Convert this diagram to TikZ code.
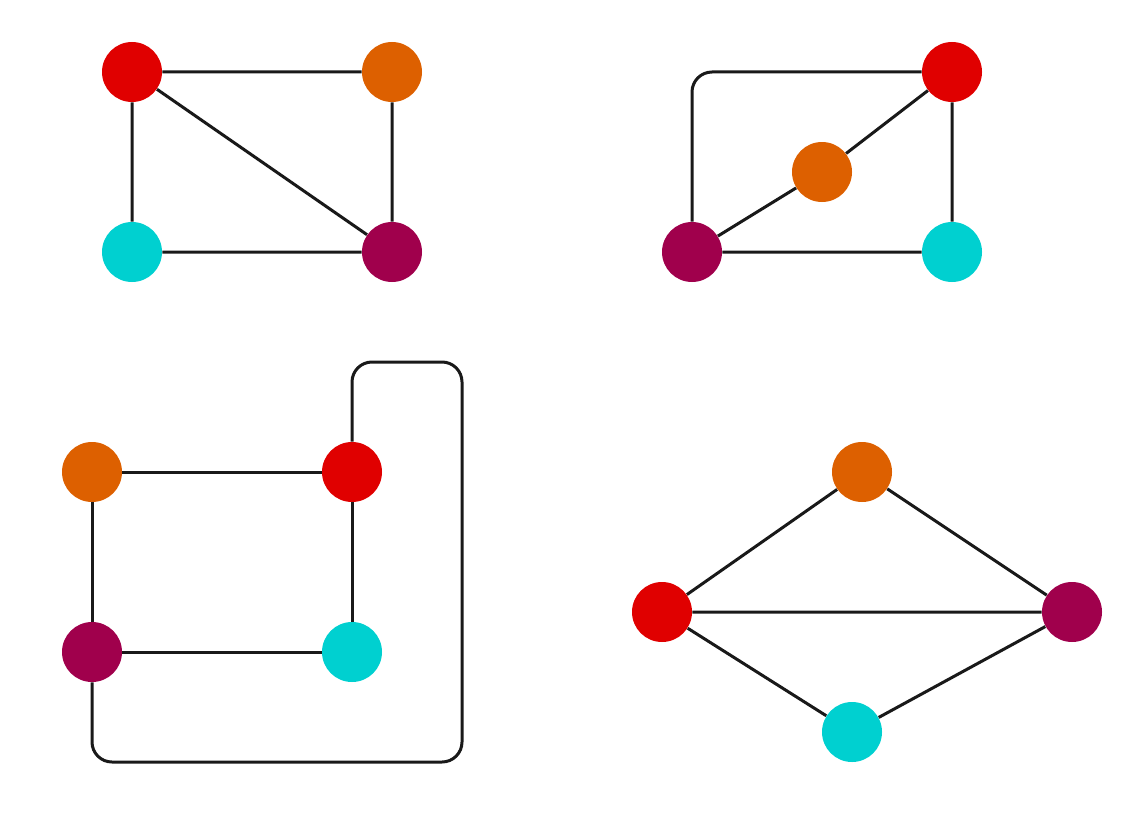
\documentclass[tikz,border=0pt]{standalone}
\definecolor{cr}{HTML}{E00000}
\definecolor{co}{HTML}{DD6000}
\definecolor{cc}{HTML}{00D0D0}
\definecolor{cp}{HTML}{A0004C}
\begin{document}
\begin{tikzpicture}[x=0.5pt,y=-0.5pt,
  v/.style={circle,minimum size=30pt,inner sep=0pt},
  e/.style={line width=1.5pt,black!90}]
\useasboundingbox (0,0) rectangle (1144,824);
% graph 1
\node[v,fill=cr] (r1) at (132,72) {};
\node[v,fill=co] (o1) at (392,72) {};
\node[v,fill=cc] (c1) at (132,252) {};
\node[v,fill=cp] (p1) at (392,252) {};
\draw[e] (r1)--(o1) (r1)--(c1) (r1)--(p1) (o1)--(p1) (c1)--(p1);
% graph 2
\node[v,fill=cr] (r2) at (952,72) {};
\node[v,fill=co] (o2) at (822,172) {};
\node[v,fill=cp] (p2) at (692,252) {};
\node[v,fill=cc] (c2) at (952,252) {};
\draw[e] (p2)--(o2) (o2)--(r2) (r2)--(c2) (p2)--(c2);
\draw[e,rounded corners=10pt] (p2.north) |- (r2.west);
% graph 3
\node[v,fill=co] (o3) at (92,472) {};
\node[v,fill=cr] (r3) at (352,472) {};
\node[v,fill=cp] (p3) at (92,652) {};
\node[v,fill=cc] (c3) at (352,652) {};
\draw[e] (o3)--(r3) (o3)--(p3) (r3)--(c3) (p3)--(c3);
\coordinate (k1) at (92,762);
\coordinate (k2) at (462,762);
\coordinate (k3) at (462,362);
\coordinate (k4) at (352,362);
\draw[e,rounded corners=10pt] (p3.south) -- (k1) -- (k2) -- (k3) -- (k4) -- (r3.north);
% graph 4
\node[v,fill=co] (o4) at (862,472) {};
\node[v,fill=cr] (r4) at (662,612) {};
\node[v,fill=cp] (p4) at (1072,612) {};
\node[v,fill=cc] (c4) at (852,732) {};
\draw[e] (r4)--(o4) (o4)--(p4) (r4)--(p4) (r4)--(c4) (c4)--(p4);
\end{tikzpicture}
\end{document}
